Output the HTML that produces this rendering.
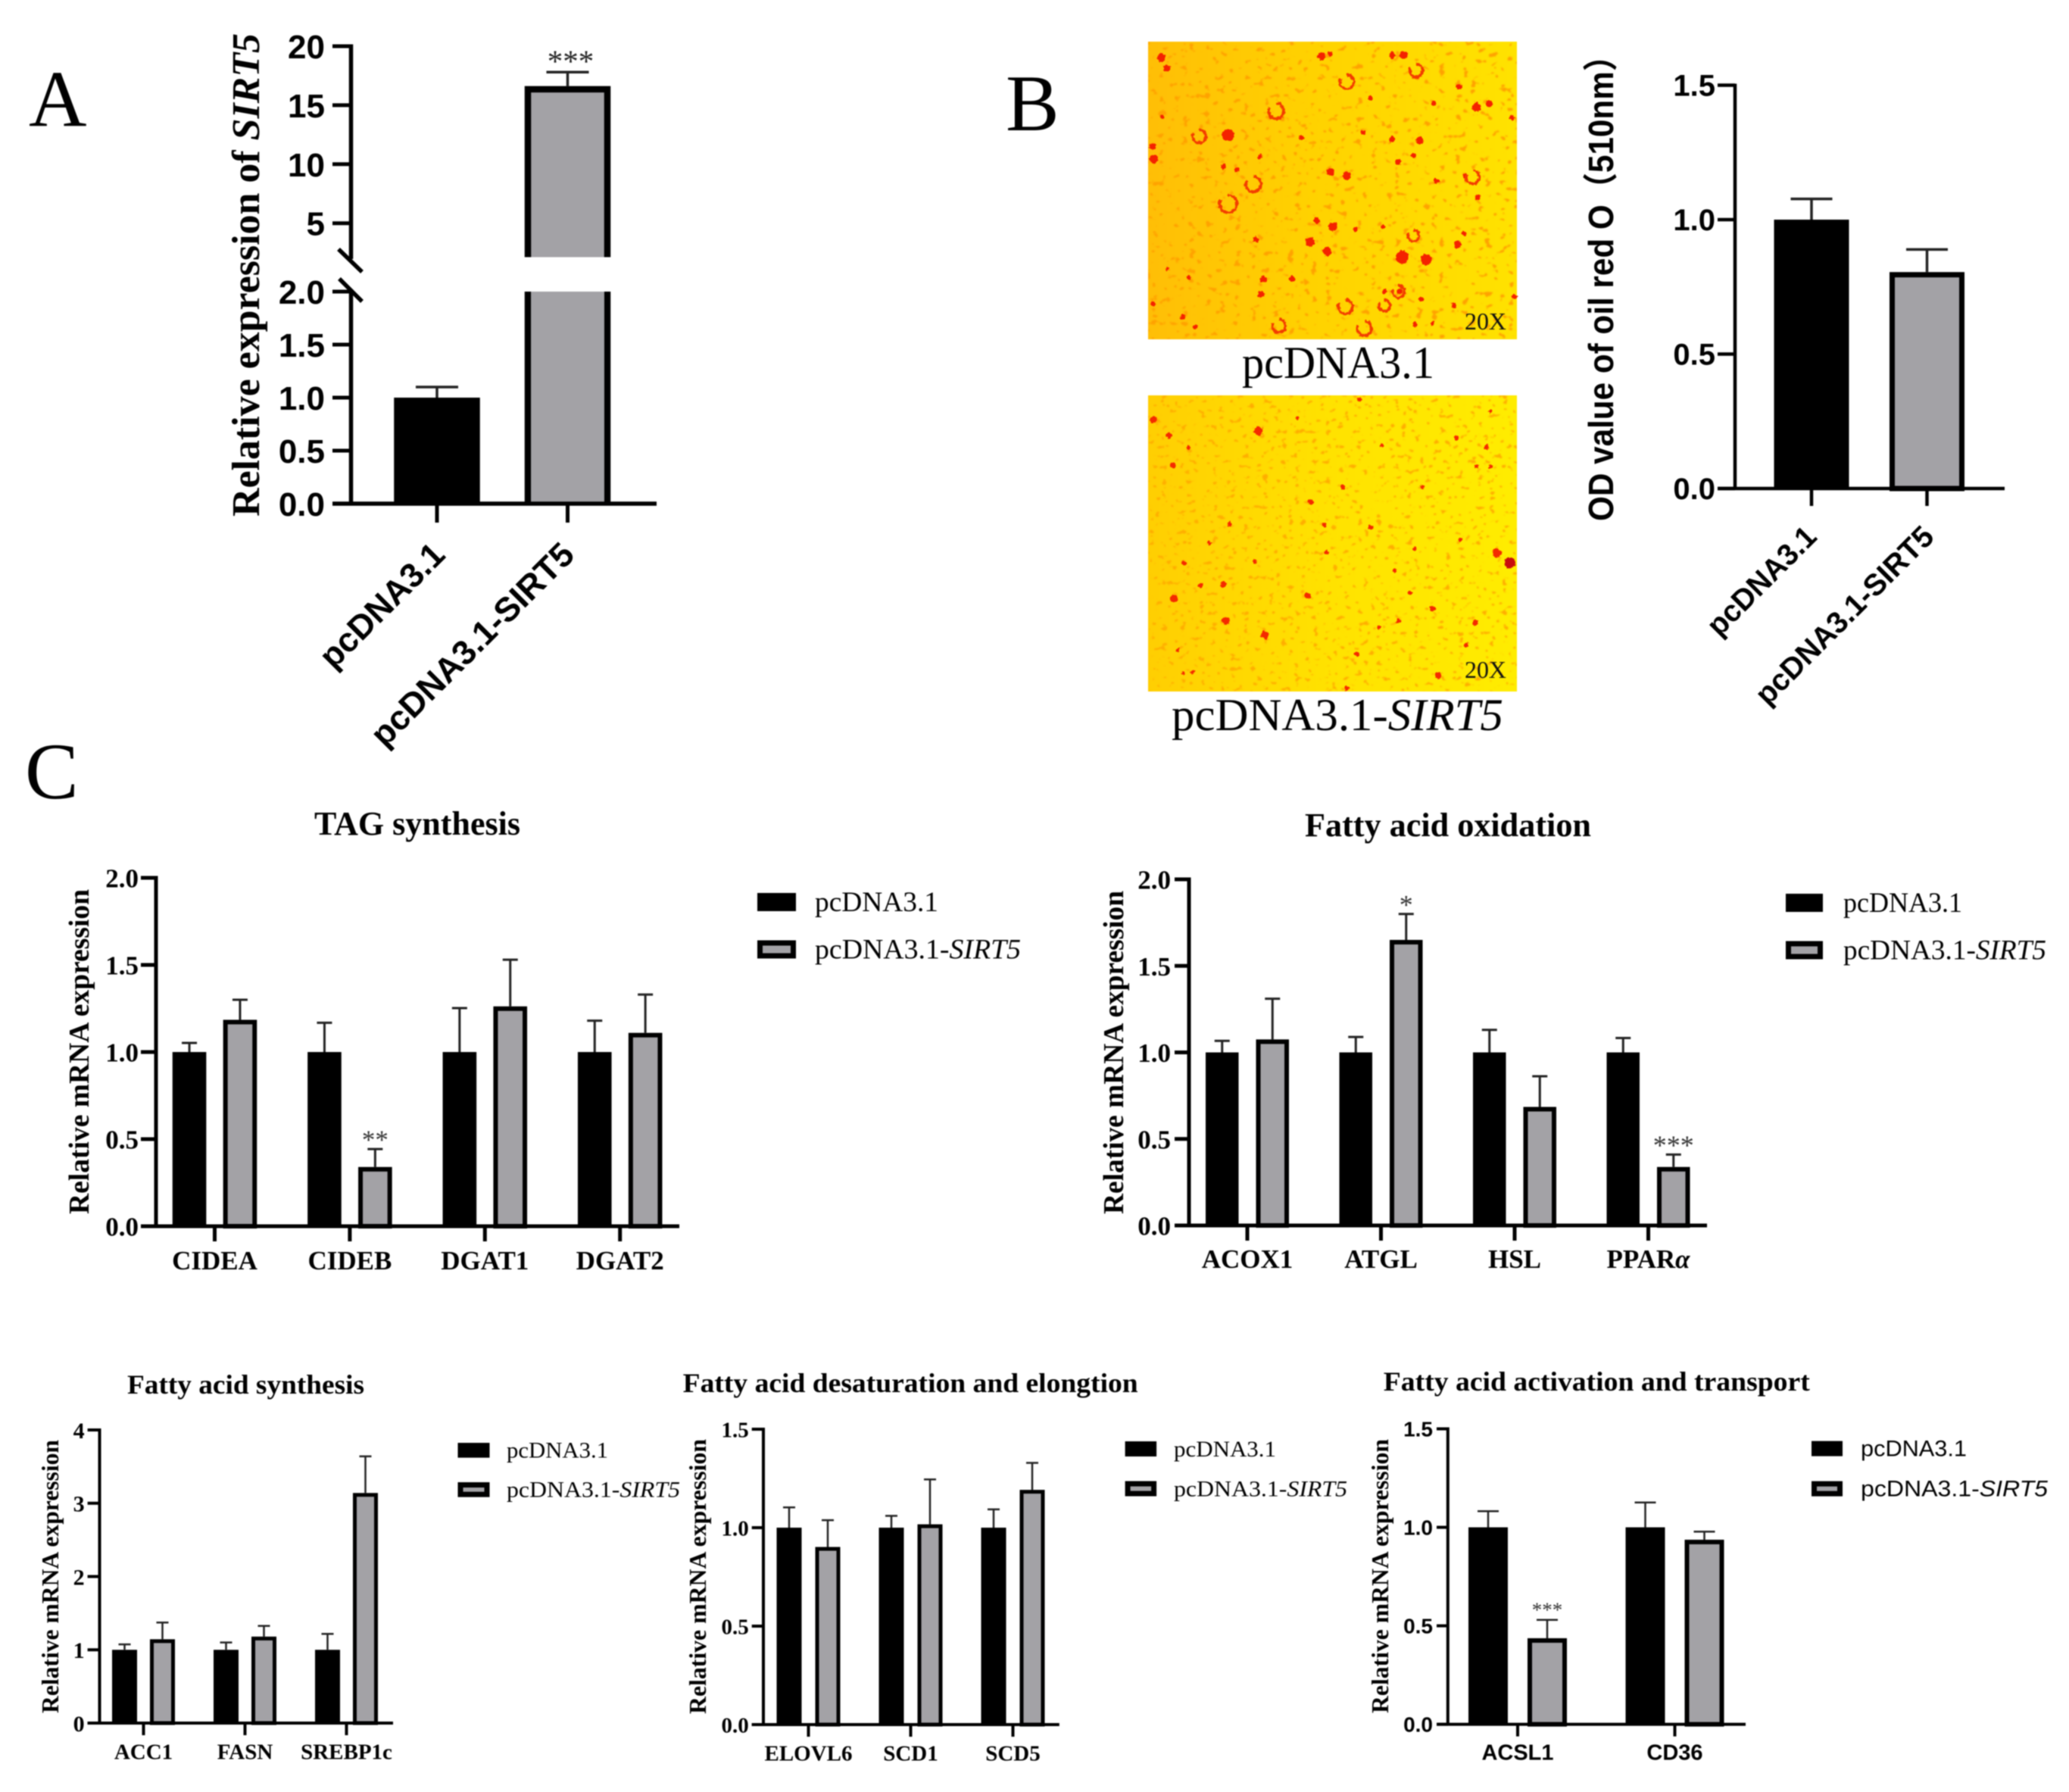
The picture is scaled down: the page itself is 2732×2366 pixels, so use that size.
<!DOCTYPE html>
<html lang="en">
<head>
<meta charset="utf-8">
<title>SIRT5 lipid metabolism figure</title>
<style>
html,body{margin:0;padding:0;background:#fff;}
#figure{display:block;width:2732px;height:2366px;filter:blur(0.8px);}
</style>
</head>
<body>
<svg id="figure" xmlns="http://www.w3.org/2000/svg" width="2732" height="2366" viewBox="0 0 2732 2366">
  <defs>
    <linearGradient id="micro-bg-1" x1="0" y1="0" x2="1" y2="0">
      <stop offset="0" stop-color="#ffbe06"/><stop offset="0.45" stop-color="#ffd200"/><stop offset="1" stop-color="#ffe200"/>
    </linearGradient>
    <linearGradient id="micro-bg-2" x1="0" y1="0" x2="1" y2="0">
      <stop offset="0" stop-color="#ffce02"/><stop offset="0.5" stop-color="#ffe200"/><stop offset="1" stop-color="#ffec00"/>
    </linearGradient>
    <filter id="cell-noise-1" x="0" y="0" width="100%" height="100%">
      <feTurbulence type="fractalNoise" baseFrequency="0.1 0.13" numOctaves="2" seed="4"/>
      <feColorMatrix type="matrix" values="0 0 0 0 1  0 0 0 0 0.36  0 0 0 0 0  12 0 0 0 -7.6"/>
      <feGaussianBlur stdDeviation="0.9"/>
    </filter>
    <filter id="cell-noise-2" x="0" y="0" width="100%" height="100%">
      <feTurbulence type="fractalNoise" baseFrequency="0.12 0.15" numOctaves="2" seed="11"/>
      <feColorMatrix type="matrix" values="0 0 0 0 1  0 0 0 0 0.42  0 0 0 0 0  12 0 0 0 -7.7"/>
      <feGaussianBlur stdDeviation="0.9"/>
    </filter>
    <filter id="organic" x="-5%" y="-5%" width="110%" height="110%">
      <feTurbulence type="fractalNoise" baseFrequency="0.09" numOctaves="2" seed="7" result="warp"/>
      <feDisplacementMap in="SourceGraphic" in2="warp" scale="14" xChannelSelector="R" yChannelSelector="G"/>
      <feGaussianBlur stdDeviation="1"/>
    </filter>
  </defs>
  <rect x="0" y="0" width="2732" height="2366" fill="#ffffff"/>

  <g font-family="'Liberation Serif',serif" font-size="106" fill="#000">
    <text x="38" y="166">A</text>
    <text x="1328" y="172">B</text>
    <text x="33" y="1054">C</text>
  </g>

  <g>
    <rect x="1516" y="55" width="487" height="393" fill="url(#micro-bg-1)"/>
    <rect x="1516" y="55" width="487" height="393" filter="url(#cell-noise-1)"/>
    <svg id="micro1" x="1516" y="55" width="487" height="393" viewBox="47 47 1463 1171" preserveAspectRatio="none"></svg>
    <text x="1934" y="435" font-family="'Liberation Serif',serif" font-size="32" fill="#111" textLength="55" lengthAdjust="spacingAndGlyphs">20X</text>
  </g>
  <text x="1640" y="499" font-family="'Liberation Serif',serif" font-size="60" fill="#000" textLength="254" lengthAdjust="spacingAndGlyphs">pcDNA3.1</text>

  <g>
    <rect x="1516" y="522" width="487" height="391" fill="url(#micro-bg-2)"/>
    <rect x="1516" y="522" width="487" height="391" filter="url(#cell-noise-2)"/>
    <svg id="micro2" x="1516" y="522" width="487" height="391" viewBox="47 37 1463 1172" preserveAspectRatio="none"></svg>
    <text x="1934" y="895" font-family="'Liberation Serif',serif" font-size="32" fill="#111" textLength="55" lengthAdjust="spacingAndGlyphs">20X</text>
  </g>
  <text x="1547" y="964" font-family="'Liberation Serif',serif" font-size="60" fill="#000" textLength="438" lengthAdjust="spacingAndGlyphs">pcDNA3.1-<tspan font-style="italic">SIRT5</tspan></text>

  <g id="charts"></g>
</svg>

<script>
// ---------- Panel A ----------
const aCategories = ['pcDNA3.1', 'pcDNA3.1-SIRT5'];
const aValues = [1.0, 16.62];
const aErrorTops = [1.1, 17.8];
const aStars = ['', '***'];
const aLowerTicks = [0, 0.5, 1, 1.5, 2];
const aUpperTicks = [5, 10, 15, 20];
const aLowerTickLabels = ['0.0', '0.5', '1.0', '1.5', '2.0'];
const aUpperTickLabels = ['5', '10', '15', '20'];

// ---------- Panel B ----------
const bCategories = ['pcDNA3.1', 'pcDNA3.1-SIRT5'];
const bValues = [1.0, 0.805];
const bErrorTops = [1.077, 0.889];
const bTicks = [0, 0.5, 1, 1.5];
const bTickLabels = ['0.0', '0.5', '1.0', '1.5'];

// ---------- Panel C: TAG synthesis ----------
const tagCategories = ['CIDEA', 'CIDEB', 'DGAT1', 'DGAT2'];
const tagControl = [1, 1, 1, 1];
const tagSirt5 = [1.185, 0.34, 1.262, 1.11];
const tagControlErr = [1.052, 1.168, 1.252, 1.18];
const tagSirt5Err = [1.30, 0.443, 1.53, 1.33];
const tagStars = ['', '**', '', ''];
const tagTicks = [0, 0.5, 1, 1.5, 2];
const tagTickLabels = ['0.0', '0.5', '1.0', '1.5', '2.0'];

// ---------- Panel C: Fatty acid oxidation ----------
const faoCategories = ['ACOX1', 'ATGL', 'HSL', 'PPAR'];
const faoControl = [1, 1, 1, 1];
const faoSirt5 = [1.075, 1.65, 0.685, 0.338];
const faoControlErr = [1.067, 1.089, 1.13, 1.083];
const faoSirt5Err = [1.31, 1.80, 0.862, 0.41];
const faoStars = ['', '*', '', '***'];
const faoTicks = [0, 0.5, 1, 1.5, 2];
const faoTickLabels = ['0.0', '0.5', '1.0', '1.5', '2.0'];

// ---------- Panel C: Fatty acid synthesis ----------
const fasCategories = ['ACC1', 'FASN', 'SREBP1c'];
const fasControl = [1, 1, 1];
const fasSirt5 = [1.144, 1.18, 3.14];
const fasControlErr = [1.074, 1.10, 1.217];
const fasSirt5Err = [1.372, 1.326, 3.64];
const fasStars = ['', '', ''];
const fasTicks = [0, 1, 2, 3, 4];
const fasTickLabels = ['0', '1', '2', '3', '4'];

// ---------- Panel C: Desaturation and elongation ----------
const desCategories = ['ELOVL6', 'SCD1', 'SCD5'];
const desControl = [1, 1, 1];
const desSirt5 = [0.902, 1.017, 1.192];
const desControlErr = [1.103, 1.06, 1.093];
const desSirt5Err = [1.038, 1.245, 1.329];
const desStars = ['', '', ''];
const desTicks = [0, 0.5, 1, 1.5];
const desTickLabels = ['0.0', '0.5', '1.0', '1.5'];

// ---------- Panel C: Activation and transport ----------
const actCategories = ['ACSL1', 'CD36'];
const actControl = [1, 1];
const actSirt5 = [0.437, 0.937];
const actControlErr = [1.082, 1.126];
const actSirt5Err = [0.53, 0.978];
const actStars = ['***', ''];
const actTicks = [0, 0.5, 1, 1.5];
const actTickLabels = ['0.0', '0.5', '1.0', '1.5'];

const NS = 'http://www.w3.org/2000/svg';
const SERIF = "'Liberation Serif',serif";
const SANS = "'Liberation Sans','Noto Sans CJK SC',sans-serif";
const GRAY = '#a3a2a6';
const root = document.getElementById('charts');

function make(tag, attrs, parent) {
  const node = document.createElementNS(NS, tag);
  for (const k in attrs) node.setAttribute(k, attrs[k]);
  parent.appendChild(node);
  return node;
}
function line(parent, x1, y1, x2, y2, w, color) {
  return make('line', {x1: x1, y1: y1, x2: x2, y2: y2, stroke: color || '#000', 'stroke-width': w}, parent);
}
function label(parent, x, y, str, o) {
  const attrs = {x: x, y: y, 'font-family': o.family, 'font-size': o.size, fill: o.fill || '#000'};
  if (o.weight) attrs['font-weight'] = o.weight;
  if (o.style) attrs['font-style'] = o.style;
  if (o.anchor) attrs['text-anchor'] = o.anchor;
  if (o.len) { attrs.textLength = o.len; attrs.lengthAdjust = 'spacingAndGlyphs'; }
  if (o.rotate !== undefined) attrs.transform = 'rotate(' + o.rotate + ' ' + x + ' ' + y + ')';
  const t = make('text', attrs, parent);
  t.appendChild(document.createTextNode(str));
  if (o.italicTail) {
    const ts = make('tspan', {'font-style': 'italic'}, t);
    ts.textContent = o.italicTail;
  }
  return t;
}
function solidBar(parent, x, yTop, w, yBase, filled, sw) {
  if (filled) {
    return make('rect', {x: x, y: yTop, width: w, height: yBase - yTop, fill: '#000'}, parent);
  }
  return make('rect', {x: x + sw / 2, y: yTop + sw / 2, width: w - sw, height: yBase - yTop - sw / 2, fill: GRAY, stroke: '#000', 'stroke-width': sw}, parent);
}
function errorBar(parent, cx, yBar, yErr, capW, sw) {
  const g = make('g', {}, parent);
  
  
  line(g, cx, yBar, cx, yErr, sw, '#222');
  line(g, cx - capW / 2, yErr, cx + capW / 2, yErr, sw, '#222');
  return g;
}

// ---------- grouped bar charts in panel C ----------
function drawGrouped(cfg) {
  const g = make('g', {}, root);
  
  
  const py = v => cfg.y0 - (v / cfg.yMax) * (cfg.y0 - cfg.yTop);
  const cx = i => cfg.first + i * cfg.step;

  const title = label(g, cfg.titleX, cfg.titleY, cfg.title, {family: SERIF, size: cfg.titleSize, weight: 'bold', len: cfg.titleLen});
  
  

  const yTitle = label(g, cfg.yTitleX, cfg.yTitleBottom, 'Relative mRNA expression', {family: SERIF, size: cfg.yTitleSize, weight: 'bold', len: cfg.yTitleLen, rotate: -90});
  
  

  cfg.categories.forEach((c, i) => {
    const b1 = solidBar(g, cx(i) - cfg.gap / 2 - cfg.barW, py(cfg.control[i]), cfg.barW, cfg.y0, true, cfg.sw);
    
    
    const b2 = solidBar(g, cx(i) + cfg.gap / 2, py(cfg.sirt5[i]), cfg.barW, cfg.y0, false, cfg.sw);
    
    
    errorBar(g, cx(i) - cfg.gap / 2 - cfg.barW / 2, py(cfg.control[i]), py(cfg.controlErr[i]), cfg.capW, cfg.errW);
    errorBar(g, cx(i) + cfg.gap / 2 + cfg.barW / 2, py(cfg.sirt5[i]), py(cfg.sirt5Err[i]), cfg.capW, cfg.errW);
    if (cfg.stars[i]) {
      const s = label(g, cx(i) + cfg.gap / 2 + cfg.barW / 2, py(cfg.sirt5Err[i]) - 17 + 0.47 * cfg.starSize, cfg.stars[i], {family: SERIF, size: cfg.starSize, anchor: 'middle', fill: '#333'});
      
      
    }
    const tick = line(g, cx(i), cfg.y0, cx(i), cfg.y0 + cfg.xTickLen, cfg.tickW);
    
    
    const lbl = label(g, cx(i), cfg.catY, c, {family: cfg.family, size: cfg.catSize, weight: 'bold', anchor: 'middle', italicTail: c === 'PPAR' ? '\u03b1' : ''});
    
    
  });

  const yAxis = line(g, cfg.axisX, cfg.yTop - cfg.axisW / 2, cfg.axisX, cfg.y0, cfg.axisW);
  
  
  const xAxis = line(g, cfg.left, cfg.y0, cfg.right, cfg.y0, cfg.axisW);
  
  
  cfg.ticks.forEach((v, i) => {
    const t = line(g, cfg.left, py(v), cfg.axisX, py(v), cfg.tickW);
    
    
    const l = label(g, cfg.left - cfg.tickPad, py(v) + cfg.tickSize * 0.36, cfg.tickLabels[i], {family: cfg.family, size: cfg.tickSize, weight: 'bold', anchor: 'end'});
    
    
  });

  const leg = make('g', {}, g);
  
  
  const sw1 = make('rect', {x: cfg.legX, y: cfg.legY1, width: cfg.legW, height: cfg.legH, fill: '#000'}, leg);
  
  
  const sw2 = make('rect', {x: cfg.legX + 3.5, y: cfg.legY2 + 3.5, width: cfg.legW - 7, height: cfg.legH - 7, fill: GRAY, stroke: '#000', 'stroke-width': 7}, leg);
  
  
  const t1 = label(leg, cfg.legTextX, cfg.legY1 + cfg.legH, 'pcDNA3.1', {family: cfg.legFamily || SERIF, size: cfg.legSize, len: cfg.legLen1});
  
  
  const t2 = label(leg, cfg.legTextX, cfg.legY2 + cfg.legH, 'pcDNA3.1-', {family: cfg.legFamily || SERIF, size: cfg.legSize, len: cfg.legLen2, italicTail: 'SIRT5'});
  
  
}

drawGrouped({name: 'chart-tag-synthesis', title: 'TAG synthesis', titleX: 415, titleY: 1102, titleLen: 272, titleSize: 44,
  categories: tagCategories, control: tagControl, sirt5: tagSirt5, controlErr: tagControlErr, sirt5Err: tagSirt5Err, stars: tagStars, ticks: tagTicks, tickLabels: tagTickLabels,
  axisX: 206, y0: 1619, yTop: 1159, yMax: 2, left: 186, right: 897, first: 283.5, step: 178.4, barW: 44.6, gap: 22.3, sw: 6, capW: 20, errW: 3, axisW: 5, tickW: 5, xTickLen: 20,
  yTitleX: 117, yTitleBottom: 1603, yTitleLen: 429, yTitleSize: 38, family: SERIF, tickSize: 35, tickPad: 3, catY: 1676, catSize: 35, starSize: 35,
  legX: 1000, legY1: 1179, legY2: 1241.5, legW: 51, legH: 24, legTextX: 1076, legSize: 37, legLen1: 163, legLen2: 272});

drawGrouped({name: 'chart-fatty-acid-oxidation', title: 'Fatty acid oxidation', titleX: 1723, titleY: 1104, titleLen: 378, titleSize: 44,
  categories: faoCategories, control: faoControl, sirt5: faoSirt5, controlErr: faoControlErr, sirt5Err: faoSirt5Err, stars: faoStars, ticks: faoTicks, tickLabels: faoTickLabels,
  axisX: 1570, y0: 1618, yTop: 1161, yMax: 2, left: 1551, right: 2254, first: 1647, step: 176.5, barW: 43.5, gap: 23, sw: 6, capW: 20, errW: 3, axisW: 5, tickW: 5, xTickLen: 20,
  yTitleX: 1483, yTitleBottom: 1603, yTitleLen: 427, yTitleSize: 38, family: SERIF, tickSize: 35, tickPad: 5, catY: 1674, catSize: 35, starSize: 36,
  legX: 2358, legY1: 1180, legY2: 1242.5, legW: 49, legH: 24, legTextX: 2434, legSize: 37, legLen1: 157, legLen2: 268});

drawGrouped({name: 'chart-fatty-acid-synthesis', title: 'Fatty acid synthesis', titleX: 168, titleY: 1840, titleLen: 313, titleSize: 36,
  categories: fasCategories, control: fasControl, sirt5: fasSirt5, controlErr: fasControlErr, sirt5Err: fasSirt5Err, stars: fasStars, ticks: fasTicks, tickLabels: fasTickLabels,
  axisX: 131.5, y0: 2275, yTop: 1888, yMax: 4, left: 115.6, right: 519, first: 189.5, step: 134, barW: 33, gap: 17, sw: 5, capW: 16, errW: 2.5, axisW: 4, tickW: 4, xTickLen: 16,
  yTitleX: 77, yTitleBottom: 2262, yTitleLen: 361, yTitleSize: 32, family: SERIF, tickSize: 30, tickPad: 4, catY: 2322.6, catSize: 29, starSize: 28,
  legX: 604.5, legY1: 1905, legY2: 1957, legW: 42, legH: 19.6, legTextX: 669, legSize: 30, legLen1: 134, legLen2: 229});

drawGrouped({name: 'chart-desaturation-elongation', title: 'Fatty acid desaturation and elongtion', titleX: 901.7, titleY: 1838, titleLen: 601, titleSize: 36,
  categories: desCategories, control: desControl, sirt5: desSirt5, controlErr: desControlErr, sirt5Err: desSirt5Err, stars: desStars, ticks: desTicks, tickLabels: desTickLabels,
  axisX: 1008, y0: 2277, yTop: 1887, yMax: 1.5, left: 992.7, right: 1398.8, first: 1067.5, step: 135, barW: 33, gap: 18, sw: 5, capW: 16, errW: 2.5, axisW: 4, tickW: 4, xTickLen: 16,
  yTitleX: 932, yTitleBottom: 2263, yTitleLen: 363, yTitleSize: 32, family: SERIF, tickSize: 29, tickPad: 4, catY: 2324.5, catSize: 29, starSize: 28,
  legX: 1485.6, legY1: 1903, legY2: 1955.5, legW: 41.5, legH: 20, legTextX: 1550, legSize: 30, legLen1: 135, legLen2: 229});

drawGrouped({name: 'chart-activation-transport', title: 'Fatty acid activation and transport', titleX: 1826.8, titleY: 1836, titleLen: 563, titleSize: 36,
  categories: actCategories, control: actControl, sirt5: actSirt5, controlErr: actControlErr, sirt5Err: actSirt5Err, stars: actStars, ticks: actTicks, tickLabels: actTickLabels,
  axisX: 1911.8, y0: 2276.6, yTop: 1886.5, yMax: 1.5, left: 1897, right: 2305, first: 2004, step: 207.5, barW: 52, gap: 26, sw: 6, capW: 28, errW: 2.5, axisW: 4, tickW: 4, xTickLen: 16,
  yTitleX: 1833, yTitleBottom: 2262, yTitleLen: 362, yTitleSize: 32, family: SANS, tickSize: 28, tickPad: 5, catY: 2323.7, catSize: 29, starSize: 27,
  legX: 2392, legY1: 1902.6, legY2: 1955.6, legW: 41, legH: 20, legTextX: 2457, legSize: 30, legLen1: 140, legLen2: 247, legFamily: SANS});

// ---------- Panel A (broken axis) ----------
(function () {
  const g = make('g', {}, root);
  
  
  const Y0 = 665, LOWER_PER = 140, UPPER_TOP = 61, UPPER_PER = 15.58, BREAK_TOP = 339.5;
  const py = v => v <= 2 ? Y0 - v * LOWER_PER : UPPER_TOP + (20 - v) * UPPER_PER;
  const cx = i => 577 + i * 172.5;
  const W = 113.5, SW = 8.5;

  aCategories.forEach((c, i) => {
    const x = cx(i) - W / 2;
    if (i === 0) {
      const b = make('rect', {x: x, y: py(aValues[i]), width: W, height: Y0 - py(aValues[i]), fill: '#000'}, g);
      
      
    } else {
      const lowTop = py(Math.min(aValues[i], 2));
      const low = make('path', {d: 'M' + (x + SW / 2) + ' ' + lowTop + 'V' + Y0 + 'M' + (x + W - SW / 2) + ' ' + Y0 + 'V' + lowTop, stroke: '#000', 'stroke-width': SW, fill: 'none'}, g);
      
      
      const lowFill = make('rect', {x: x + SW, y: lowTop, width: W - 2 * SW, height: Y0 - lowTop, fill: GRAY}, g);
      
      
      const upTop = py(aValues[i]);
      const up = make('path', {d: 'M' + (x + SW / 2) + ' ' + BREAK_TOP + 'V' + (upTop + SW / 2) + 'H' + (x + W - SW / 2) + 'V' + BREAK_TOP, fill: GRAY, stroke: '#000', 'stroke-width': SW}, g);
      
      
    }
    errorBar(g, cx(i), py(aValues[i]), py(aErrorTops[i]), 56, 3.5);
    if (aStars[i]) {
      const s = label(g, cx(i) + 4, py(aErrorTops[i]) - 20 + 0.47 * 41, aStars[i], {family: SERIF, size: 41, anchor: 'middle', fill: '#222'});
      
      
    }
    const t = line(g, cx(i), Y0, cx(i), 690, 5);
    
    
  });

  const ax1 = line(g, 463.5, 58.5, 463.5, 342, 5.5);
  
  
  const ax2 = line(g, 463.5, 382, 463.5, Y0, 5.5);
  
  
  const br1 = line(g, 447, 329, 478, 359, 5.5);
  
  
  const br2 = line(g, 448, 368, 478, 398, 5.5);
  
  
  const xa = line(g, 439, Y0, 867, Y0, 5.5);
  
  

  aLowerTicks.forEach((v, i) => {
    const t = line(g, 439, py(v), 463.5, py(v), 5);
    
    
    const l = label(g, 429, py(v) + 16, aLowerTickLabels[i], {family: SANS, size: 44, weight: 'bold', anchor: 'end'});
    
    
  });
  aUpperTicks.forEach((v, i) => {
    const t = line(g, 439, py(v), 463.5, py(v), 5);
    
    
    const l = label(g, 429, py(v) + 16, aUpperTickLabels[i], {family: SANS, size: 44, weight: 'bold', anchor: 'end'});
    
    
  });

  const yt = label(g, 342, 682, 'Relative expression of ', {family: SERIF, size: 52, weight: 'bold', len: 638, rotate: -90, italicTail: 'SIRT5'});
  
  

  const xl = [[590, 735, 212], [761, 735, 358]];
  aCategories.forEach((c, i) => {
    const l = label(g, xl[i][0], xl[i][1], c, {family: SANS, size: 45, weight: 'bold', anchor: 'end', rotate: -45, len: xl[i][2]});
    
    
  });
})();

// ---------- Panel B ----------
(function () {
  const g = make('g', {}, root);
  
  
  const Y0 = 645, PER = 355;
  const py = v => Y0 - v * PER;
  const cx = i => 2392 + i * 152.5;
  const W = 99;
  bCategories.forEach((c, i) => {
    const b = solidBar(g, cx(i) - W / 2, py(bValues[i]), W, Y0, i === 0, 7);
    
    
    errorBar(g, cx(i), py(bValues[i]), py(bErrorTops[i]), 55, 3.5);
    const t = line(g, cx(i), Y0, cx(i), 668, 4.5);
    
    
  });
  const ya = line(g, 2291, py(1.5) - 2, 2291, Y0, 4.5);
  
  
  const xa = line(g, 2268, Y0, 2647, Y0, 4.5);
  
  
  bTicks.forEach((v, i) => {
    const t = line(g, 2268, py(v), 2291, py(v), 4.5);
    
    
    const l = label(g, 2265, py(v) + 14, bTickLabels[i], {family: SANS, size: 40, weight: 'bold', anchor: 'end'});
    
    
  });
  const yt = label(g, 2130, 688, 'OD value of oil red O\uff08510nm\uff09', {family: SANS, size: 46, weight: 'bold', len: 636, rotate: -90});
  
  
  const xl = [[2401, 711, 185], [2556, 711, 314]];
  bCategories.forEach((c, i) => {
    const l = label(g, xl[i][0], xl[i][1], c, {family: SANS, size: 40, weight: 'bold', anchor: 'end', rotate: -45, len: xl[i][2]});
    
    
  });
})();

// ---------- Micrograph stain spots (image texture, not chart data) ----------
const micro1Spots = [[100,110,16],[122,150,14],[735,105,16],[770,95,10],[1060,100,16],[1015,100,13],[365,415,24],[65,460,14],[68,510,17],[490,500,10],[770,560,16],[835,575,16],[655,425,10],[900,405,10],[1125,435,15],[1015,432,12],[1100,495,10],[690,835,18],[757,872,18],[780,775,18],[1055,895,26],[1150,905,22],[985,1030,10],[1045,1028,12],[505,982,14],[495,1040,14],[475,825,12],[1260,1085,11],[1300,800,10],[1275,845,16],[1355,660,12],[1305,575,10],[1350,305,18],[1400,290,14],[1280,225,12],[185,1130,10],[235,1170,10],[1500,1050,10],[1490,345,10],[103,345,9],[980,775,9],[715,750,12],[870,785,9],[1040,520,12],[345,540,11],[400,550,9],[1190,595,11],[1130,1060,10],[68,1078,9],[210,975,9],[125,940,8],[620,980,12],[1105,1160,10],[1175,1155,8],[930,270,10],[1180,290,10]];
const micro1Rings = [[835,205,28],[250,420,26],[465,608,30],[365,685,34],[830,1090,28],[905,1175,28],[565,1165,26],[1110,160,26],[1335,580,26],[985,1085,22],[555,320,30],[1040,1030,24],[1100,810,22]];
const micro2Spots = [[1405,100,8],[1390,240,10],[820,400,10],[693,460,12],[370,547,10],[745,550,9],[1285,608,8],[1430,660,18],[1345,937,11],[1197,1145,13],[965,955,9],[222,1132,9],[188,1137,7],[150,840,15],[1025,730,8],[290,622,10],[145,315,12],[68,133,14],[485,177,18],[835,1195,9],[1085,820,8],[875,1060,10],[165,1045,7],[975,235,8],[207,243,8],[510,985,16],[355,930,16],[1310,1025,9],[1175,880,12],[130,195,12],[885,55,10],[640,125,7],[1270,205,10],[1350,318,8],[1405,318,8],[930,560,10],[755,658,8],[470,695,9],[345,785,12],[255,790,10],[190,700,10],[680,830,12],[1040,930,9],[1105,645,8],[1135,398,8]];
const micro2Dark = [[1482,700,22]];

function drawSpots(id, spots, color) {
  const svg = document.getElementById(id);
  spots.forEach(s => {
    make('circle', {cx: s[0], cy: s[1], r: s[2], fill: color}, svg);
  });
}
function drawRings(id, rings, color) {
  const svg = document.getElementById(id);
  rings.forEach(s => {
    make('circle', {cx: s[0], cy: s[1], r: s[2], fill: 'none', stroke: color, 'stroke-width': 11, 'stroke-dasharray': (s[2] * 3.6) + ' ' + (s[2] * 1.1)}, svg);
  });
}
drawSpots('micro1', micro1Spots, '#f42400');
drawRings('micro1', micro1Rings, '#f23c00');
drawSpots('micro2', micro2Spots, '#f42a00');
drawSpots('micro2', micro2Dark, '#c80808');
document.getElementById('micro1').style.filter = 'url(#organic)';
document.getElementById('micro2').style.filter = 'url(#organic)';
</script>
</body>
</html>
